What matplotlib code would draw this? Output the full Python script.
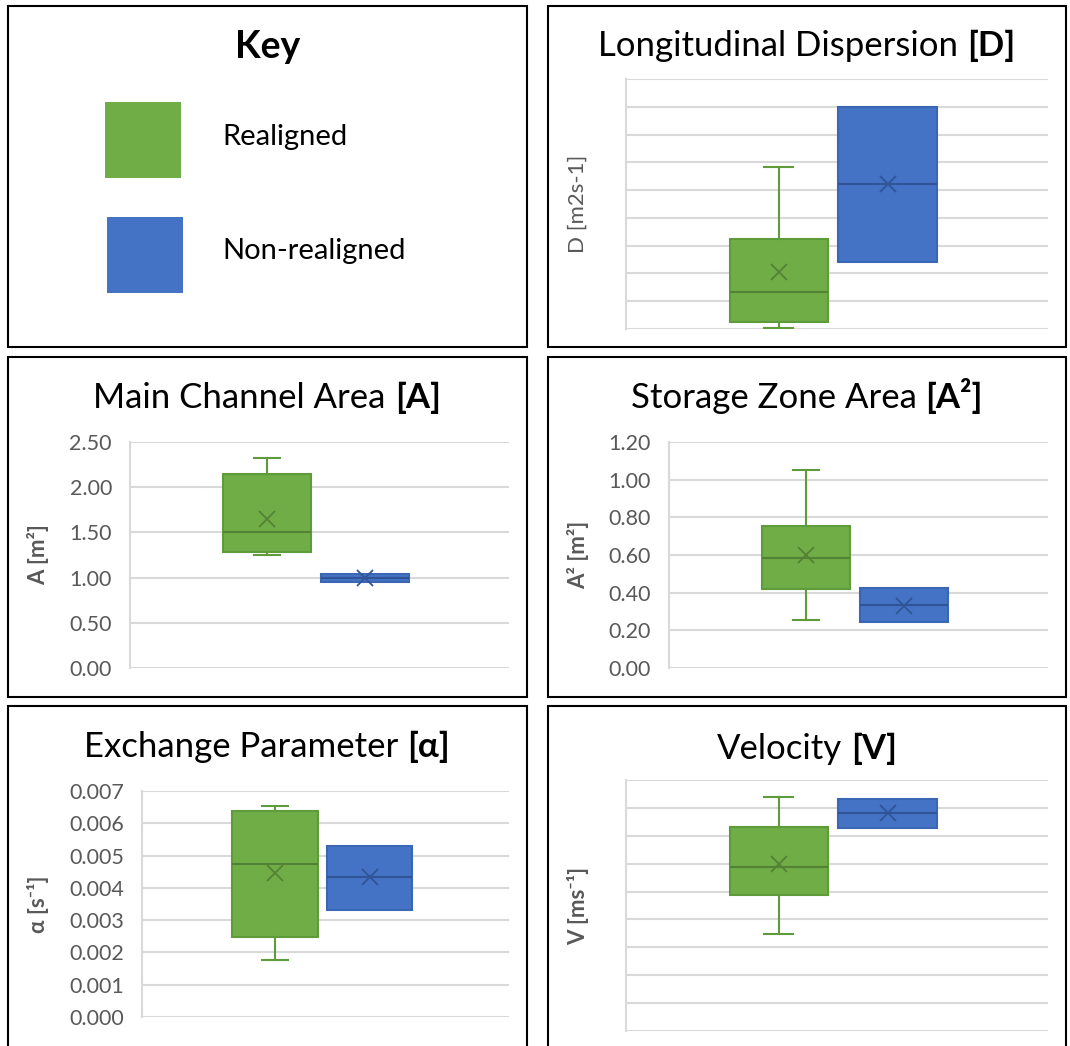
import matplotlib
matplotlib.use("Agg")
import matplotlib.pyplot as plt
from matplotlib.patches import Rectangle

FONT = ["Lato", "DejaVu Sans"]
plt.rcParams["font.family"] = FONT

W, H = 1070, 1046
GREEN = "#70AD47"
BLUE = "#4472C4"
GREEN_EDGE = "#5E9B3B"
BLUE_EDGE = "#3B66B3"
GREEN_DARK = "#548235"
BLUE_DARK = "#2F5597"
GRID = "#D9D9D9"
TICK = "#595959"

series_names = ["Realigned", "Non-realigned"]

# ---- data: [Realigned, Non-realigned] ----
# Longitudinal Dispersion (no axis values shown; gridline units)
D_whislo = [0.04, 2.41]
D_q1 = [0.25, 2.41]
D_med = [1.33, 5.22]
D_q3 = [3.24, 8.00]
D_whishi = [5.83, 8.00]
D_mean = [2.05, 5.22]

# Main Channel Area
A_whislo = [1.25, 0.95]
A_q1 = [1.28, 0.95]
A_med = [1.50, 1.00]
A_q3 = [2.15, 1.04]
A_whishi = [2.32, 1.04]
A_mean = [1.65, 1.00]

# Storage Zone Area
A2_whislo = [0.255, 0.245]
A2_q1 = [0.42, 0.245]
A2_med = [0.585, 0.335]
A2_q3 = [0.755, 0.425]
A2_whishi = [1.05, 0.425]
A2_mean = [0.60, 0.33]

# Exchange Parameter
al_whislo = [0.00177, 0.00331]
al_q1 = [0.00248, 0.00331]
al_med = [0.00474, 0.00433]
al_q3 = [0.00638, 0.00530]
al_whishi = [0.00654, 0.00530]
al_mean = [0.00446, 0.00433]

# Velocity (no axis values shown; gridline units)
V_whislo = [3.48, 7.28]
V_q1 = [4.87, 7.28]
V_med = [5.88, 7.81]
V_q3 = [7.31, 8.32]
V_whishi = [8.39, 8.32]
V_mean = [5.99, 7.81]

A_ticks = [0.00, 0.50, 1.00, 1.50, 2.00, 2.50]
A2_ticks = [0.00, 0.20, 0.40, 0.60, 0.80, 1.00, 1.20]
al_ticks = [0.000, 0.001, 0.002, 0.003, 0.004, 0.005, 0.006, 0.007]
blank_ticks = list(range(10))

TITLE_SIZE = 25
TICK_SIZE = 15.5
LABEL_SIZE = 16

fig = plt.figure(figsize=(W / 100, H / 100), dpi=100)
fig.patch.set_facecolor("white")


def fx(px):
    return px / W


def fy(py):
    return 1 - py / H


def panel_border(x0, y0, x1, y1):
    r = Rectangle((fx(x0), fy(y1)), fx(x1) - fx(x0), fy(y0) - fy(y1),
                  transform=fig.transFigure, fill=False, edgecolor="black",
                  linewidth=1.5, zorder=10)
    fig.add_artist(r)


def mixed_title(cx_px, cy_px, normal, bold, size):
    r = fig.canvas.get_renderer()
    t1 = fig.text(0, fy(cy_px), normal, fontsize=size, va="baseline", ha="left", color="black")
    t2 = fig.text(0, fy(cy_px), bold, fontsize=size, fontweight="bold", va="baseline",
                  ha="left", color="black")
    ts = fig.text(0, 0, "a a", fontsize=size)
    tn = fig.text(0, 0, "aa", fontsize=size)
    sp = ts.get_window_extent(r).width - tn.get_window_extent(r).width
    ts.remove(); tn.remove()
    w1 = t1.get_window_extent(r).width
    w2 = t2.get_window_extent(r).width
    total = w1 + sp + w2
    x0 = cx_px - total / 2
    t1.set_x(fx(x0))
    t2.set_x(fx(x0 + w1 + sp))


def box_panel(rect_px, whislo, q1, med, q3, whishi, mean, ylim, ticks, fmt, ylabel,
              label_bold, label_x_px):
    x0, y0, x1, y1 = rect_px
    ax = fig.add_axes([fx(x0), fy(y1), fx(x1) - fx(x0), fy(y0) - fy(y1)])
    positions = [0.362, 0.62]
    fills = [GREEN, BLUE]
    edges = [GREEN_EDGE, BLUE_EDGE]
    darks = [GREEN_DARK, BLUE_DARK]
    for i in range(2):
        stats = [dict(med=med[i], q1=q1[i], q3=q3[i], whislo=whislo[i],
                      whishi=whishi[i], mean=mean[i], fliers=[], label=series_names[i])]
        ax.bxp(stats, positions=[positions[i]], widths=0.233, patch_artist=True,
               showmeans=True, showfliers=False, manage_ticks=False,
               capwidths=0.069 if whishi[i] != q3[i] else 0.0,
               boxprops=dict(facecolor=fills[i], edgecolor=edges[i], linewidth=1.5),
               medianprops=dict(color=darks[i], linewidth=1.5),
               whiskerprops=dict(color=edges[i], linewidth=1.5),
               capprops=dict(color=edges[i], linewidth=1.5),
               meanprops=dict(marker="x", markeredgecolor=darks[i], markersize=11,
                              markeredgewidth=1.3))
    ax.set_xlim(0, 1)
    ax.set_ylim(*ylim)
    ax.set_yticks(ticks)
    if fmt is None:
        ax.set_yticklabels([])
    else:
        ax.set_yticklabels([fmt.format(t) for t in ticks])
    ax.set_xticks([])
    ax.tick_params(axis="y", length=0, pad=13, labelsize=TICK_SIZE, labelcolor=TICK)
    ax.grid(axis="y", color=GRID, linewidth=1.5)
    ax.set_axisbelow(True)
    for s in ["top", "right", "bottom"]:
        ax.spines[s].set_visible(False)
    ax.spines["left"].set_color(GRID)
    ax.spines["left"].set_linewidth(1.5)
    cy = (y0 + y1) / 2
    fig.text(fx(label_x_px), fy(cy), ylabel, rotation=90, ha="center", va="center",
             fontsize=LABEL_SIZE, color=TICK, fontweight="bold" if label_bold else "normal")
    return ax


# ---- Key panel ----
panel_border(8, 6, 527, 347)
fig.text(fx(268), fy(47), "Key", fontsize=27, fontweight="bold", ha="center", va="center")
for (sx0, sy0, sx1, sy1), col, name, ty in [((105, 102, 181, 178), GREEN, series_names[0], 137),
                                            ((107, 217, 183, 293), BLUE, series_names[1], 251)]:
    fig.add_artist(Rectangle((fx(sx0), fy(sy1)), fx(sx1) - fx(sx0), fy(sy0) - fy(sy1),
                             transform=fig.transFigure, facecolor=col, edgecolor="none"))
    fig.text(fx(222), fy(ty), name, fontsize=21, ha="left", va="center", color="black")

# ---- Longitudinal Dispersion ----
panel_border(548, 6, 1066, 347)
box_panel((626, 79, 1048, 329), D_whislo, D_q1, D_med, D_q3, D_whishi, D_mean,
          (0, 9), blank_ticks, None, "D [m2s-1]", False, 578)
mixed_title(807, 56, "Longitudinal Dispersion", "[D]", TITLE_SIZE)

# ---- Main Channel Area ----
panel_border(8, 357, 527, 697)
box_panel((130, 442, 509, 668), A_whislo, A_q1, A_med, A_q3, A_whishi, A_mean,
          (0, 2.5), A_ticks, "{:.2f}", "A [m²]", True, 38)
mixed_title(267, 408, "Main Channel Area", "[A]", TITLE_SIZE)

# ---- Storage Zone Area ----
panel_border(548, 357, 1066, 697)
box_panel((669, 442, 1048, 668), A2_whislo, A2_q1, A2_med, A2_q3, A2_whishi, A2_mean,
          (0, 1.2), A2_ticks, "{:.2f}", "A² [m²]", True, 578)
mixed_title(807, 408, "Storage Zone Area", "[A²]", TITLE_SIZE)

# ---- Exchange Parameter ----
panel_border(8, 706, 527, 1060)
box_panel((142, 791, 509, 1017), al_whislo, al_q1, al_med, al_q3, al_whishi, al_mean,
          (0, 0.007), al_ticks, "{:.3f}", "α [s⁻¹]", True, 38)
mixed_title(267, 757, "Exchange Parameter", "[α]", TITLE_SIZE)

# ---- Velocity ----
panel_border(548, 706, 1066, 1060)
box_panel((626, 780, 1048, 1031), V_whislo, V_q1, V_med, V_q3, V_whishi, V_mean,
          (0, 9), blank_ticks, None, "V [ms⁻¹]", True, 578)
mixed_title(807, 759, "Velocity", "[V]", TITLE_SIZE)

fig.savefig("out.png", dpi=100)
